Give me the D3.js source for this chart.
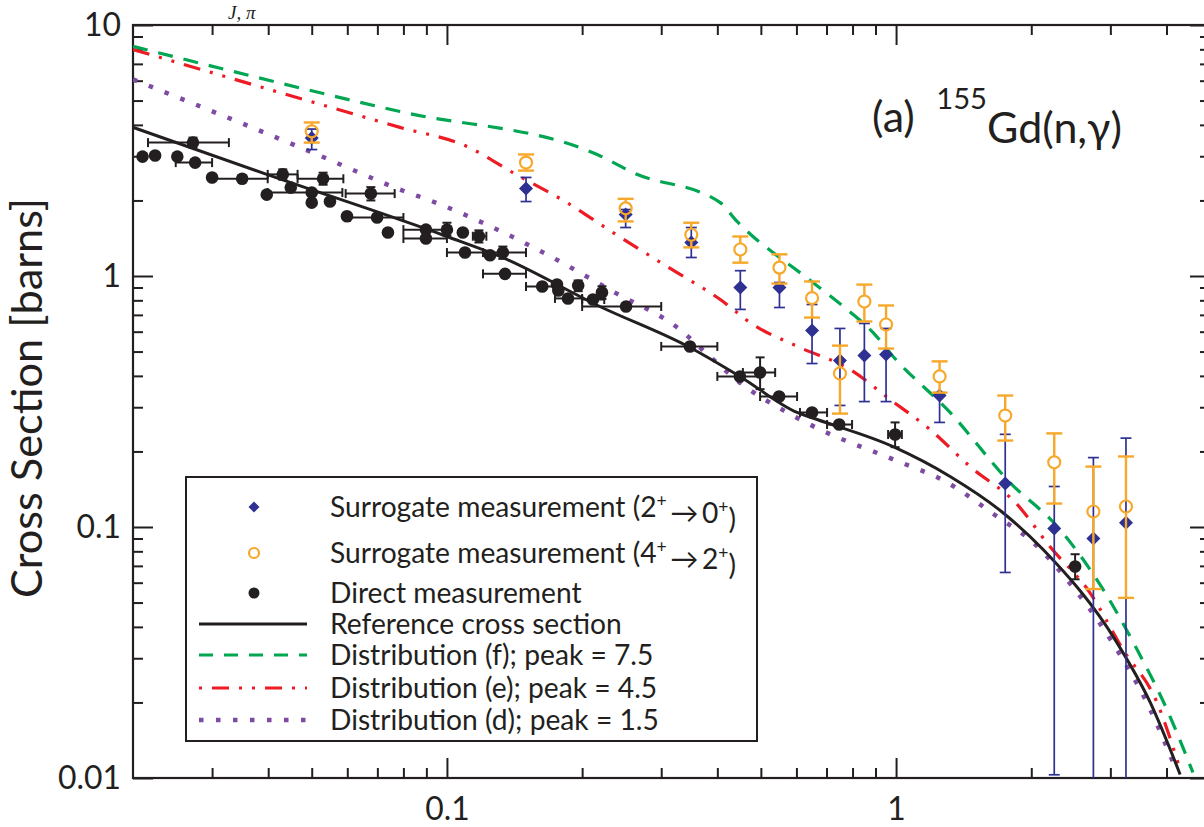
<!DOCTYPE html>
<html><head><meta charset="utf-8">
<script src="https://cdn.jsdelivr.net/npm/d3@7"></script>
<style>body{margin:0;background:#fff;overflow:hidden}svg{display:block}</style>
</head><body>
<svg id="chart" width="1204" height="827"></svg>
<script>
// ---------------- data ----------------
const xTickLabels = [0.1, 1];
const yTickLabels = [0.01, 0.1, 1, 10];

// surrogate measurements
const surrogateX = [0.05,0.15,0.25,0.35,0.45,0.55,0.65,0.75,0.85,0.95,1.25,1.75,2.25,2.75,3.25];
const surr20Y  = [3.55,2.23,1.76,1.36,0.90,0.90,0.607,0.461,0.482,0.487,0.334,0.149,0.0987,0.090,0.104];
const surr20Lo = [3.19,1.98,1.56,1.185,0.736,0.749,0.448,0.305,0.316,0.316,0.261,0.0659,0.0103,0.005,0.005];
const surr20Hi = [3.85,2.47,1.84,1.56,1.05,0.942,0.770,0.618,0.647,0.618,0.343,0.234,0.145,0.189,0.226];
const surr42Y  = [3.77,2.83,1.86,1.46,1.275,1.08,0.817,0.409,0.791,0.641,0.398,0.278,0.181,0.1153,0.1207];
const surr42Lo = [3.40,2.63,1.65,1.30,1.13,0.933,0.683,0.283,0.659,0.514,0.343,0.221,0.124,0.0566,0.0522];
const surr42Hi = [4.09,3.05,2.03,1.63,1.437,1.22,0.951,0.528,0.924,0.763,0.457,0.334,0.236,0.174,0.191];

// direct measurement
const directX = [0.0210,0.0224,0.0251,0.0272,0.0275,0.0300,0.0350,0.0397,0.0431,0.0449,0.0500,0.0500,0.0530,0.0549,0.0599,0.0677,0.0699,0.0739,0.0898,0.0898,0.1000,0.1085,0.1178,0.1097,0.1247,0.1332,0.1347,0.163,0.1758,0.177,0.186,0.196,0.2114,0.2214,0.2505,0.3476,0.449,0.498,0.549,0.650,0.747,0.995,2.504];
const directY = [2.99,3.02,2.99,3.40,2.83,2.47,2.44,2.11,2.54,2.25,2.15,1.96,2.44,1.98,1.73,2.13,1.71,1.49,1.53,1.41,1.53,1.49,1.44,1.24,1.21,1.24,1.02,0.908,0.925,0.875,0.814,0.917,0.806,0.86,0.756,0.524,0.398,0.4125,0.331,0.286,0.256,0.2336,0.0696];
const directXLo = [null,null,null,0.0216,0.0249,null,0.0300,null,0.0399,null,0.0399,null,0.0465,null,null,0.0595,0.0608,null,0.0800,0.0800,null,null,0.1142,0.1,null,0.1203,0.1203,0.150,null,null,0.174,null,0.2,null,0.2,0.3,0.4,0.456,0.498,0.611,0.702,0.96,null];
const directXHi = [null,null,null,0.0327,0.0300,null,0.0399,null,0.0465,null,0.0585,null,0.0588,null,null,0.0765,0.0800,null,0.1,0.1,null,null,0.1224,0.1203,null,0.150,0.150,0.177,null,null,0.2,null,0.224,null,0.3,0.4,0.498,0.538,0.602,0.702,0.798,1.03,null];
const directYLo = [null,null,null,3.25,null,null,null,null,2.42,null,null,null,2.31,null,null,2.0,null,null,null,null,1.45,null,1.36,null,null,1.17,null,null,null,null,null,0.87,null,0.81,null,null,null,0.354,null,null,null,0.208,0.0619];
const directYHi = [null,null,null,3.56,null,null,null,null,2.66,null,null,null,2.58,null,null,2.26,null,null,null,null,1.63,null,1.52,null,null,1.31,null,null,null,null,null,0.96,null,0.91,null,null,null,0.474,null,null,null,0.261,0.0779];

// reference cross section
const refX = [0.0200,0.0397,0.1,0.1313,0.219,0.3476,0.449,0.602,0.667,0.985,1.319,1.73,2.125,3.10,3.68,4.29];
const refY = [3.91,2.54,1.437,1.196,0.756,0.519,0.398,0.286,0.268,0.209,0.159,0.114,0.0813,0.0347,0.0200,0.01033];
// distribution (f), peak = 7.5
const distFX = [0.0200,0.0786,0.216,0.260,0.406,0.4425,0.480,0.532,0.590,0.653,0.778,0.889,0.985,1.319,1.795,2.284,2.89,3.44,4.01,4.58];
const distFY = [8.22,4.52,3.05,2.58,1.96,1.65,1.437,1.24,1.081,0.942,0.735,0.595,0.478,0.286,0.150,0.1005,0.0564,0.0325,0.01875,0.01052];
// distribution (e), peak = 4.5
const distEX = [0.0200,0.0786,0.1108,0.1403,0.185,0.2343,0.309,0.406,0.480,0.611,0.790,0.970,1.19,1.462,1.86,2.20,2.70,3.20,3.81,4.29];
const distEY = [7.99,3.91,3.28,2.58,1.96,1.49,1.091,0.806,0.641,0.519,0.424,0.322,0.2446,0.174,0.123,0.0836,0.0548,0.0325,0.0200,0.0108];
// distribution (d), peak = 1.5
const distDX = [0.0200,0.0265,0.0503,0.0786,0.0965,0.1266,0.167,0.2343,0.330,0.385,0.449,0.572,0.677,0.985,1.299,1.679,2.02,2.40,3.00,3.68,4.14];
const distDY = [6.07,4.96,3.10,2.21,1.93,1.56,1.218,0.867,0.612,0.478,0.376,0.286,0.2446,0.186,0.1505,0.110,0.0867,0.0618,0.0357,0.01875,0.01153];

// ---------------- drawing ----------------
const FONT = "Lato, 'Open Sans', sans-serif";
const INK = "#231f20";
const C_GREEN = "#00a651", C_RED = "#ed1c24", C_PURPLE = "#7e4ba3",
      C_BLUE = "#2e3192", C_ORANGE = "#f7a82a";

const svg = d3.select("#chart");
const L = 133, R = 1210, T = 25, B = 778;
const x = d3.scaleLog().domain([0.02, 5]).range([L, R]);
const y = d3.scaleLog().domain([0.01, 10]).range([B, T]);

svg.append("rect").attr("width",1204).attr("height",827).attr("fill","#fff");
svg.append("clipPath").attr("id","clip").append("rect")
  .attr("x",L).attr("y",T).attr("width",R-L).attr("height",B-T);

// minor tick values
const xMinor = [], yMinor = [];
[0.01,0.1,1].forEach(p => { for (let k=2;k<=9;k++){ const v=k*p; if (v>0.02 && v<5) xMinor.push(v); } });
[0.01,0.1,1].forEach(p => { for (let k=2;k<=9;k++) yMinor.push(k*p); });

function styleAxis(g){
  g.select(".domain").remove();
  g.selectAll("line").attr("stroke",INK).attr("stroke-width",2);
  g.selectAll("text").attr("fill",INK).style("font-family",FONT);
}
// bottom
svg.append("g").attr("transform",`translate(0,${B})`)
  .call(d3.axisBottom(x).tickValues(xTickLabels).tickSize(-20).tickSizeOuter(0).tickPadding(19).tickFormat(d=>String(d)))
  .call(styleAxis).attr("class","xlab");
svg.append("g").attr("transform",`translate(0,${B})`)
  .call(d3.axisBottom(x).tickValues(xMinor).tickSize(-10).tickSizeOuter(0).tickFormat(""))
  .call(styleAxis);
// top
svg.append("g").attr("transform",`translate(0,${T})`)
  .call(d3.axisTop(x).tickValues(xTickLabels).tickSize(-20).tickSizeOuter(0).tickFormat(""))
  .call(styleAxis);
svg.append("g").attr("transform",`translate(0,${T})`)
  .call(d3.axisTop(x).tickValues(xMinor).tickSize(-10).tickSizeOuter(0).tickFormat(""))
  .call(styleAxis);
// left
svg.append("g").attr("transform",`translate(${L},0)`)
  .call(d3.axisLeft(y).tickValues(yTickLabels).tickSize(-20).tickSizeOuter(0).tickPadding(12).tickFormat(d=>String(d)))
  .call(styleAxis).attr("class","ylab");
svg.append("g").attr("transform",`translate(${L},0)`)
  .call(d3.axisLeft(y).tickValues(yMinor).tickSize(-10).tickSizeOuter(0).tickFormat(""))
  .call(styleAxis);
// right
svg.append("g").attr("transform",`translate(${R},0)`)
  .call(d3.axisRight(y).tickValues(yTickLabels).tickSize(-20).tickSizeOuter(0).tickFormat(""))
  .call(styleAxis);
svg.append("g").attr("transform",`translate(${R},0)`)
  .call(d3.axisRight(y).tickValues(yMinor).tickSize(-10).tickSizeOuter(0).tickFormat(""))
  .call(styleAxis);

// frame
svg.append("rect").attr("x",L).attr("y",T).attr("width",R-L).attr("height",B-T)
  .attr("fill","none").attr("stroke",INK).attr("stroke-width",2.2);

// tick label font fitting ("0.01" is ~63px wide)
const tickTexts = svg.selectAll(".xlab text, .ylab text");
tickTexts.style("font-size","34px");
let w001 = 0;
svg.selectAll(".ylab text").each(function(d){ if (d===0.01) w001 = this.getComputedTextLength(); });
const tickFS = 34*63/w001;
tickTexts.style("font-size",tickFS+"px");

// plot content
const plotG = svg.append("g").attr("clip-path","url(#clip)");
const line = d3.line().x(d=>x(d[0])).y(d=>y(d[1])).curve(d3.curveMonotoneX);

plotG.append("path").datum(d3.zip(distDX,distDY)).attr("d",line).attr("fill","none")
  .attr("stroke",C_PURPLE).attr("stroke-width",4.5).attr("stroke-dasharray","4.5,12.5");
plotG.append("path").datum(d3.zip(distEX,distEY)).attr("d",line).attr("fill","none")
  .attr("stroke",C_RED).attr("stroke-width",3.2).attr("stroke-dasharray","17,10,3,10,3,10");
plotG.append("path").datum(d3.zip(distFX,distFY)).attr("d",line).attr("fill","none")
  .attr("stroke",C_GREEN).attr("stroke-width",3.2).attr("stroke-dasharray","15,11");
plotG.append("path").datum(d3.zip(refX,refY)).attr("d",line).attr("fill","none")
  .attr("stroke",INK).attr("stroke-width",3);

// direct measurement error bars
const direct = directX.map((v,i)=>({x:v,y:directY[i],xl:directXLo[i],xh:directXHi[i],yl:directYLo[i],yh:directYHi[i]}));
const dg = plotG.append("g").attr("stroke",INK).attr("stroke-width",2);
direct.filter(d=>d.xl!==null).forEach(d=>{
  const yy=y(d.y);
  dg.append("line").attr("x1",x(d.xl)).attr("x2",x(d.xh)).attr("y1",yy).attr("y2",yy);
  dg.append("line").attr("x1",x(d.xl)).attr("x2",x(d.xl)).attr("y1",yy-4.5).attr("y2",yy+4.5);
  dg.append("line").attr("x1",x(d.xh)).attr("x2",x(d.xh)).attr("y1",yy-4.5).attr("y2",yy+4.5);
});
direct.filter(d=>d.yl!==null).forEach(d=>{
  const xx=x(d.x);
  dg.append("line").attr("x1",xx).attr("x2",xx).attr("y1",y(d.yl)).attr("y2",y(d.yh));
  dg.append("line").attr("x1",xx-4.5).attr("x2",xx+4.5).attr("y1",y(d.yl)).attr("y2",y(d.yl));
  dg.append("line").attr("x1",xx-4.5).attr("x2",xx+4.5).attr("y1",y(d.yh)).attr("y2",y(d.yh));
});
plotG.append("g").selectAll("circle").data(direct).join("circle")
  .attr("cx",d=>x(d.x)).attr("cy",d=>y(d.y)).attr("r",6.3).attr("fill",INK);

// surrogate 2+ -> 0+ (blue)
const s20 = surrogateX.map((v,i)=>({x:v,y:surr20Y[i],lo:surr20Lo[i],hi:surr20Hi[i]}));
const bg = plotG.append("g").attr("stroke",C_BLUE).attr("stroke-width",1.7);
s20.forEach(d=>{
  const xx=x(d.x);
  bg.append("line").attr("x1",xx).attr("x2",xx).attr("y1",y(d.lo)).attr("y2",y(d.hi));
  [d.lo,d.hi].forEach(v=>bg.append("line").attr("x1",xx-5.5).attr("x2",xx+5.5).attr("y1",y(v)).attr("y2",y(v)));
});
const diamond = s => `M0,${-s}L${s},0L0,${s}L${-s},0Z`;
plotG.append("g").selectAll("path").data(s20).join("path")
  .attr("d",diamond(7)).attr("transform",d=>`translate(${x(d.x)},${y(d.y)})`).attr("fill",C_BLUE);

// surrogate 4+ -> 2+ (orange)
const s42 = surrogateX.map((v,i)=>({x:v,y:surr42Y[i],lo:surr42Lo[i],hi:surr42Hi[i]}));
const og = plotG.append("g").attr("stroke",C_ORANGE).attr("stroke-width",2.4);
s42.forEach(d=>{
  const xx=x(d.x);
  og.append("line").attr("x1",xx).attr("x2",xx).attr("y1",y(d.lo)).attr("y2",y(d.y)+6);
  og.append("line").attr("x1",xx).attr("x2",xx).attr("y1",y(d.y)-6).attr("y2",y(d.hi));
  [d.lo,d.hi].forEach(v=>og.append("line").attr("x1",xx-8).attr("x2",xx+8).attr("y1",y(v)).attr("y2",y(v)));
});
plotG.append("g").selectAll("circle").data(s42).join("circle")
  .attr("cx",d=>x(d.x)).attr("cy",d=>y(d.y)).attr("r",6).attr("fill","none")
  .attr("stroke",C_ORANGE).attr("stroke-width",2.2);

// ---------------- legend ----------------
const lg = svg.append("g");
lg.append("rect").attr("x",186).attr("y",477).attr("width",571).attr("height",264)
  .attr("fill","#fff").attr("stroke",INK).attr("stroke-width",2);
const rowsY = [507,553,593,624,655,688,720];
const symX = 254, lineX1 = 199, lineX2 = 307, textX = 330;
lg.append("path").attr("d",diamond(5.5)).attr("transform",`translate(${symX},${rowsY[0]})`).attr("fill",C_BLUE);
lg.append("circle").attr("cx",symX).attr("cy",rowsY[1]).attr("r",5).attr("fill","none").attr("stroke",C_ORANGE).attr("stroke-width",2.2);
lg.append("circle").attr("cx",symX).attr("cy",rowsY[2]).attr("r",5.5).attr("fill",INK);
const legLines = [
  {row:3,stroke:INK,w:3,dash:null},
  {row:4,stroke:C_GREEN,w:3.2,dash:"14,11"},
  {row:5,stroke:C_RED,w:3.2,dash:"3,10,17,10,3,10"},
  {row:6,stroke:C_PURPLE,w:4.5,dash:"4.5,12.5"}];
legLines.forEach(l=>lg.append("line").attr("x1",lineX1).attr("x2",lineX2)
  .attr("y1",rowsY[l.row]).attr("y2",rowsY[l.row]).attr("stroke",l.stroke)
  .attr("stroke-width",l.w).attr("stroke-dasharray",l.dash));

const legTexts = [];
function legText(row){
  const t = lg.append("text").attr("x",textX).attr("y",rowsY[row]+10)
    .attr("fill",INK).style("font-family",FONT).style("font-size","28px");
  legTexts.push(t); return t;
}
function sup(t,s){ t.append("tspan").attr("dy","-0.55em").style("font-size","0.62em").text(s);
  return t; }
function back(t,s){ t.append("tspan").attr("dy","0.55em").text(s); return t; }
{ const t=legText(0); t.append("tspan").text("Surrogate measurement (2"); sup(t,"+");
  back(t,"\u2009\u2192\u20090"); sup(t,"+"); back(t,")"); }
{ const t=legText(1); t.append("tspan").text("Surrogate measurement (4"); sup(t,"+");
  back(t,"\u2009\u2192\u20092"); sup(t,"+"); back(t,")"); }
legText(2).text("Direct measurement");
legText(3).text("Reference cross section");
legText(4).text("Distribution (f); peak = 7.5");
legText(5).text("Distribution (e); peak = 4.5");
const lastLeg = legText(6).text("Distribution (d); peak = 1.5");
const legFS = 28*329/lastLeg.node().getComputedTextLength();
legTexts.forEach(t=>t.style("font-size",legFS+"px"));

// ---------------- annotation ----------------
const ann = svg.append("text").attr("x",872).attr("y",132).attr("fill",INK)
  .style("font-family",FONT).style("font-size","36px");
ann.append("tspan").text("(a)\u2002");
ann.append("tspan").attr("dy","-0.8em").style("font-size","0.68em").text("155");
ann.append("tspan").attr("dy","0.8em").text("Gd(n,\u03b3)");
const annFS = 36*250/ann.node().getComputedTextLength();
ann.style("font-size",annFS+"px");

// ---------------- y label ----------------
const yl = svg.append("text").attr("transform","translate(42,398) rotate(-90)")
  .attr("text-anchor","middle").attr("fill",INK).style("font-family",FONT).style("font-size","36px")
  .text("Cross Section [barns]");
const ylFS = 36*400/yl.node().getComputedTextLength();
yl.style("font-size",ylFS+"px");

// fragment of an upper label (at the top edge)
svg.append("text").attr("x",228).attr("y",19).attr("fill",INK)
  .style("font-family","'Liberation Serif', serif").style("font-style","italic").style("font-size","19px")
  .text("J, \u03c0");
</script>
</body></html>
